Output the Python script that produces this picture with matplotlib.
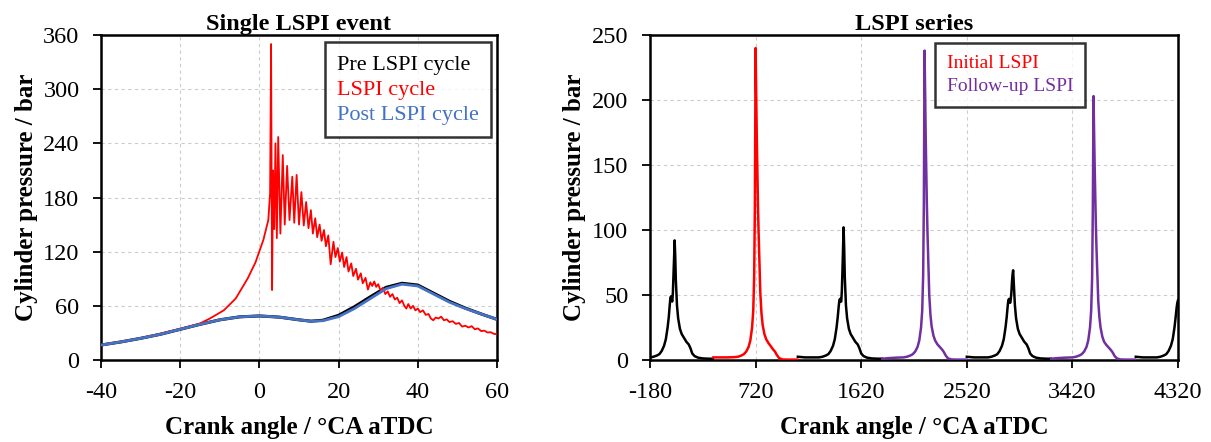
import matplotlib
matplotlib.use("Agg")
import matplotlib.pyplot as plt
from matplotlib.lines import Line2D

plt.rcParams['font.family'] = ['Liberation Serif', 'DejaVu Serif']

# ---------------- Left panel: single LSPI event ----------------
post_angle = [-40, -35, -30, -25, -20, -15, -10, -5, 0, 5, 10, 13, 16, 20, 24, 28,
              32, 36, 40, 44, 48, 52, 56, 60]
post_p = [16.6, 20, 24, 28.5, 34, 39.5, 44.5, 47.8, 48.8, 47.5, 44.5, 43, 43.5, 48,
          57, 68, 79, 84, 82, 73, 64, 57, 51, 45]
pre_p = [16.6, 20, 24, 28.5, 34, 39.5, 44.5, 47.8, 48.8, 47.5, 44.5, 43, 44, 49.5,
         59, 70, 80.5, 85, 83, 74, 65, 57.5, 51, 45]

# (crank angle, pressure) pairs of the LSPI cycle
lspi_points = [
    (-40, 16.6), (-30, 24), (-20, 34.5), (-15, 40.5), (-12.5, 46), (-9, 55),
    (-6, 68), (-3, 90), (-1, 108), (1, 133), (2.25, 155), (2.7, 185),
    (2.95, 350), (3.2, 77.5), (3.45, 210), (3.75, 145), (4.05, 240),
    (4.4, 135), (4.75, 247), (5.3, 140), (5.9, 227), (6.4, 150), (7.0, 215),
    (7.6, 155), (8.3, 203), (8.8, 152), (9.4, 205), (10.0, 150), (10.6, 186),
    (11.2, 149), (11.8, 175), (12.4, 146), (13.0, 166), (13.5, 140), (14.1, 157),
    (14.6, 136), (15.2, 150), (15.7, 132), (16.3, 144), (16.8, 126), (17.4, 138),
    (18.0, 106), (18.7, 131), (19.2, 114), (19.8, 124), (20.3, 109), (20.9, 119),
    (21.4, 103), (22.0, 114), (22.5, 98), (23.2, 107), (23.7, 93), (24.4, 101),
    (24.9, 89), (25.6, 96), (26.1, 85), (26.8, 91), (27.4, 78), (28.0, 86),
    (28.5, 82), (29.0, 87), (29.5, 81), (30.0, 84), (30.6, 77), (31.2, 80),
    (31.8, 73), (32.4, 76), (33.0, 70), (33.6, 73), (34.2, 67), (34.8, 69),
    (35.4, 63), (36.0, 66), (36.6, 60), (37.1, 57), (37.6, 62), (38.2, 57),
    (38.8, 60), (39.4, 55), (40.0, 57), (40.6, 53), (41.3, 55), (42.0, 50),
    (42.7, 51), (43.3, 46), (43.9, 44), (44.5, 47), (45.2, 46), (45.9, 48),
    (46.6, 44), (47.3, 45), (48.0, 42), (48.8, 43), (49.6, 40), (50.4, 41),
    (51.2, 37), (52.0, 38), (52.8, 36), (53.6, 37.5), (54.4, 34), (55.2, 35),
    (56.0, 32), (56.8, 32.5), (57.6, 30.5), (58.4, 30.8), (59.2, 29), (60.0, 28.5),
]
lspi_angle = [a for a, _ in lspi_points]
lspi_p = [p for _, p in lspi_points]

left_xticks = [-40, -20, 0, 20, 40, 60]
left_yticks = [0, 60, 120, 180, 240, 300, 360]

# ---------------- Right panel: LSPI series ----------------
offs = [-360, -300, -240, -180, -150, -120, -100, -80, -60, -45, -30, -20, -12, -6,
        0, 5, 10, 15, 20, 25, 30, 35, 40, 50, 60, 75, 90, 110, 130, 150, 165, 180,
        200, 230, 270, 320, 356]
tdc = [0, 720, 1440, 2160, 2880, 3600, 4320]
kind = ['normal', 'initial', 'normal', 'followup', 'normal', 'followup', 'normal']
cyc0 = [2.5, 2, 2, 2, 2.5, 3.5, 4.5, 7, 11, 16, 25, 33, 42, 48, 49, 46, 45, 52, 65,
        78, 92, 80, 62, 42, 32, 24, 20, 17, 14, 12, 9, 5, 3, 1.8, 1.2, 1, 1]
cyc1 = [2, 2, 2, 2.2, 2.5, 3.5, 4.5, 6.5, 10, 15, 25, 38, 65, 120, 240, 205, 172,
        146, 120, 100, 84, 68, 52, 36, 27, 20, 16, 13, 10.5, 8, 6.5, 4, 1.5, 0.4,
        0.3, 0.3, 0.3]
cyc2 = [2.5, 2, 2, 2, 2.5, 3.5, 4.5, 7, 11, 16, 25, 33, 41, 46, 47, 45, 45, 53, 68,
        85, 102, 86, 64, 42, 32, 24, 20, 17, 14, 12, 9, 5, 3, 1.8, 1.2, 1, 1]
cyc3 = [1, 1.5, 1.8, 2, 2.5, 3.5, 4.5, 6.5, 10, 15, 25, 38, 65, 120, 238, 205, 170,
        144, 118, 98, 82, 66, 50, 35, 26, 19, 15, 12, 10, 8, 6, 3.5, 1.2, 0.4, 0.3,
        0.3, 0.3]
cyc4 = [2.5, 2, 2, 2, 2.5, 3.5, 4.5, 7, 11, 16, 25, 33, 41, 46, 47, 45, 44, 47, 52,
        60, 66, 69, 60, 42, 32, 24, 20, 17, 14, 12, 9, 5, 3, 1.8, 1.2, 1, 1]
cyc5 = [1, 1.5, 1.8, 2, 2.5, 3.5, 4.5, 6.5, 10, 15, 25, 38, 63, 115, 203, 175, 148,
        126, 104, 87, 73, 60, 46, 33, 25, 18, 14, 11.5, 9.5, 7.5, 5.5, 3, 1.2, 0.4,
        0.3, 0.3, 0.3]
cyc6 = [2.5, 2, 2, 2, 2.5, 3.5, 4.5, 7, 11, 16, 25, 33, 40, 44, 46]
cycles_p = [cyc0, cyc1, cyc2, cyc3, cyc4, cyc5, cyc6]

right_xticks = [-180, 720, 1620, 2520, 3420, 4320]
right_yticks = [0, 50, 100, 150, 200, 250]

# ---------------- styling ----------------
RED = '#ff0000'
BLUE = '#4472c4'
PURPLE = '#7030a0'
BLACK = '#000000'
colors = {'normal': BLACK, 'initial': RED, 'followup': PURPLE}

fig = plt.figure(figsize=(12.11, 4.42), dpi=100)
axL = fig.add_axes([101 / 1211, 1 - 360 / 442, (497 - 101) / 1211, 325 / 442])
axR = fig.add_axes([650 / 1211, 1 - 360 / 442, (1178 - 650) / 1211, 325 / 442])

axL.plot(post_angle, pre_p, color=BLACK, lw=2.2, zorder=3)
axL.plot(lspi_angle, lspi_p, color=RED, lw=1.3, zorder=4)
axL.plot(post_angle, post_p, color=BLUE, lw=2.0, zorder=5)

for t, k, p in zip(tdc, kind, cycles_p):
    xs = [t + o for o in offs[:len(p)]]
    axR.plot(xs, p, color=colors[k], lw=1.8, zorder=3)

def style(ax, xt, yt, title):
    ax.set_xlim(xt[0], xt[-1])
    ax.set_ylim(yt[0], yt[-1])
    ax.set_xticks(xt)
    ax.set_yticks(yt)
    ax.set_xticklabels([str(v) for v in xt])
    ax.tick_params(direction='out', length=5.5, width=1.3, labelsize=17.5)
    ax.tick_params(axis='x', pad=10)
    ax.tick_params(axis='y', pad=10)
    for s in ax.spines.values():
        s.set_linewidth(1.8)
    ax.grid(True, color='#cccccc', linestyle=(0, (3, 3)), lw=0.8, zorder=0)
    ax.set_axisbelow(True)
    ax.set_xlabel('Crank angle / °CA aTDC', fontsize=18, fontweight='bold', labelpad=10)
    ax.set_ylabel('Cylinder pressure / bar', fontsize=18, fontweight='bold', labelpad=4)
    ax.set_title(title, fontsize=17.5, fontweight='bold', pad=2)

style(axL, left_xticks, left_yticks, 'Single LSPI event')
style(axR, right_xticks, right_yticks, 'LSPI series')

def text_legend(ax, labels, cols, anchor, loc, fs, spacing, pad):
    handles = [Line2D([], [], color=c) for c in cols]
    leg = ax.legend(handles, labels, loc=loc, bbox_to_anchor=anchor, fontsize=fs,
                    handlelength=0, handletextpad=0, labelcolor=cols, frameon=True,
                    fancybox=False, borderpad=pad, labelspacing=spacing,
                    borderaxespad=0)
    for h in leg.legend_handles:
        h.set_visible(False)
    leg.get_frame().set_edgecolor('black')
    leg.get_frame().set_linewidth(1.8)
    leg.set_zorder(10)
    return leg

text_legend(axL, ['Pre LSPI cycle', 'LSPI cycle', 'Post LSPI cycle'],
            [BLACK, RED, BLUE], (0.985, 0.978), 'upper right', 16, 0.2, 0.55)
text_legend(axR, ['Initial LSPI', 'Follow-up LSPI'], [RED, PURPLE],
            (0.54, 0.975), 'upper left', 14, 0.25, 0.6)

fig.savefig('out.png', dpi=100)
